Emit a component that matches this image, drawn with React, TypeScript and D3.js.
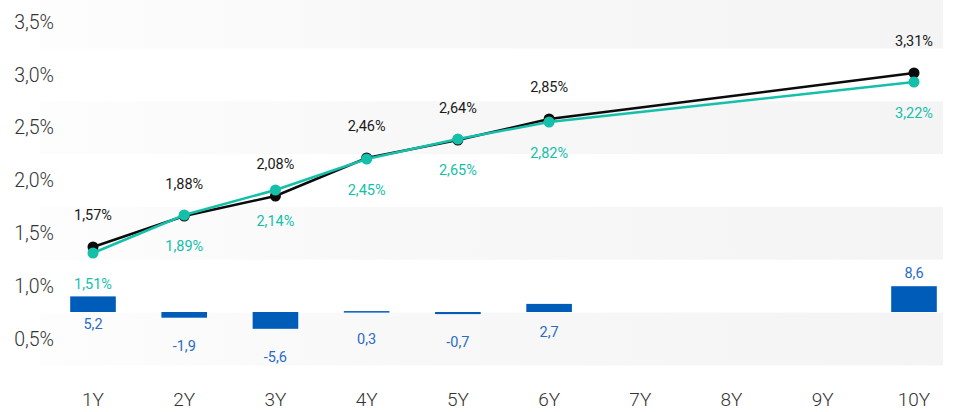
import React from 'react'
import * as d3 from 'd3'

const categories = ['1Y', '2Y', '3Y', '4Y', '5Y', '6Y', '7Y', '8Y', '9Y', '10Y']
const seriesA: Array<[string, number]> = [
  ['1Y', 1.57], ['2Y', 1.88], ['3Y', 2.08], ['4Y', 2.46], ['5Y', 2.64], ['6Y', 2.85], ['10Y', 3.31],
]
const seriesB: Array<[string, number]> = [
  ['1Y', 1.51], ['2Y', 1.89], ['3Y', 2.14], ['4Y', 2.45], ['5Y', 2.65], ['6Y', 2.82], ['10Y', 3.22],
]
const diffs: Array<[string, number]> = [
  ['1Y', 5.2], ['2Y', -1.9], ['3Y', -5.6], ['4Y', 0.3], ['5Y', -0.7], ['6Y', 2.7], ['10Y', 8.6],
]
const yTicks = [0.5, 1.0, 1.5, 2.0, 2.5, 3.0, 3.5]

const W = 954
const H = 412
const BLACK = '#0b0b0b'
const TEAL = '#14c0aa'
const BLUE = '#005cb9'
const BLUE_TXT = '#2a6cc6'
const FONT = 'Roboto, sans-serif'

const fmt = (v: number, d: number) => v.toFixed(d).replace('.', ',')

export default function App() {
  const x = d3.scalePoint<string>().domain(categories).range([93, 914])
  const axisY = d3.scaleLinear().domain([0.5, 3.5]).range([339, 22])
  const lineY = d3.scaleLinear().domain([0, 4]).range([404, 4])
  const barY = d3.scaleLinear().domain([0, 10]).range([312, 282])
  const bandH = Math.abs(axisY(1) - axisY(0.5))
  const barW = x.step() * 0.5

  const line = d3.line<[string, number]>()
    .x((d) => x(d[0]) as number)
    .y((d) => lineY(d[1]))

  return (
    <svg width={W} height={H} style={{ position: 'absolute', left: 0, top: 0 }} fontFamily={FONT}>
      <defs>
        <linearGradient id="band" x1="0" x2="1" y1="0" y2="0">
          <stop offset="0" stopColor="#fdfdfd" />
          <stop offset="0.4" stopColor="#f8f8f8" />
          <stop offset="1" stopColor="#f4f4f4" />
        </linearGradient>
      </defs>
      {yTicks.map((t, i) => (
        <g key={t}>
          {i % 2 === 0 && (
            <rect x={40} y={axisY(t) - bandH / 2} width={903} height={bandH} fill="url(#band)" />
          )}
          <text x={54} y={axisY(t)} dy="0.35em" textAnchor="end" fontSize={19.5} fontWeight={300} fill="#333">
            {fmt(t, 1)}%
          </text>
        </g>
      ))}

      {categories.map((c) => (
        <text key={c} x={x(c)} y={399} dy="0.35em" textAnchor="middle" fontSize={19} fontWeight={300} fill="#333">
          {c}
        </text>
      ))}

      {diffs.map(([c, v]) => {
        const y0 = barY(0)
        const y1 = barY(v)
        const below = y1 + 28
        const ly = below < y0 + 8 ? Math.min(y0, y1) - 13 : below
        return (
          <g key={c}>
            <rect x={(x(c) as number) - barW / 2} y={Math.min(y0, y1)} width={barW} height={Math.max(Math.abs(y1 - y0), 1.5)} fill={BLUE} />
            <text x={x(c)} y={ly} dy="0.35em" textAnchor="middle" fontSize={14.5} fill={BLUE_TXT}>
              {fmt(v, 1)}
            </text>
          </g>
        )
      })}

      <path d={line(seriesA) || ''} fill="none" stroke={BLACK} strokeWidth={2.5} />
      {seriesA.map(([c, v]) => (
        <g key={c}>
          <circle cx={x(c)} cy={lineY(v)} r={5.5} fill={BLACK} />
          <text x={x(c)} y={lineY(v) - 32} dy="0.35em" textAnchor="middle" fontSize={14.5} fill="#1a1a1a">
            {fmt(v, 2)}%
          </text>
        </g>
      ))}

      <path d={line(seriesB) || ''} fill="none" stroke={TEAL} strokeWidth={2.5} />
      {seriesB.map(([c, v]) => (
        <g key={c}>
          <circle cx={x(c)} cy={lineY(v)} r={5.5} fill={TEAL} />
          <text x={x(c)} y={lineY(v) + 31} dy="0.35em" textAnchor="middle" fontSize={14.5} fill={TEAL}>
            {fmt(v, 2)}%
          </text>
        </g>
      ))}
    </svg>
  )
}
